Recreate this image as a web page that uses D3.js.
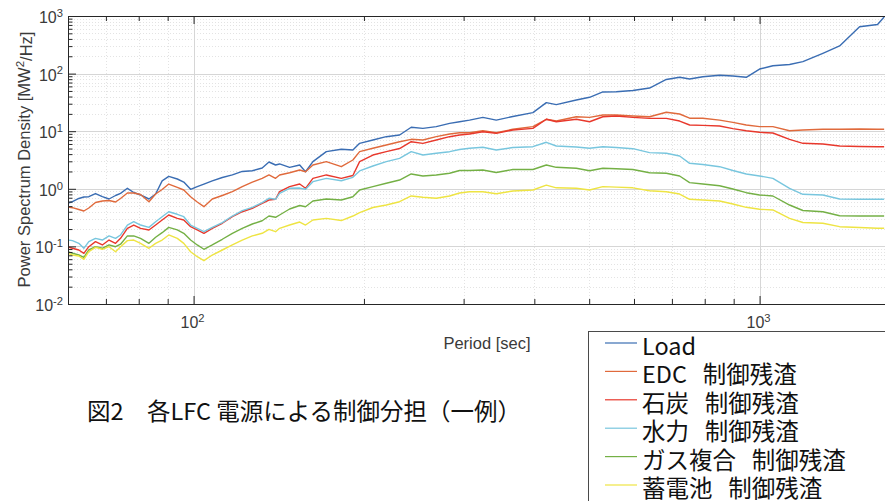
<!DOCTYPE html>
<html>
<head>
<meta charset="utf-8">
<script src="https://cdn.jsdelivr.net/npm/d3@7/dist/d3.min.js"></script>
<style>
  html, body { margin: 0; padding: 0; background: #fff; }
  svg { display: block; }
</style>
</head>
<body>
<div id="chart"></div>
<script>
// Period grid (sec), shared by all series
const periods = [
    60, 61.1, 62.7, 64.0, 65.3, 67.1, 69.0, 70.9, 72.8, 74.3,
    76.4, 78.4, 80.6, 83.4, 85.7, 88.0, 90.4, 93.6, 96.1, 98.8,
    101.5, 104.3, 107.9, 112.4, 117.1, 121.9, 127.0, 132.2, 135.9, 139.6,
    141.9, 147.8, 154.0, 157.7, 162.5, 171.6, 182.4, 191.2, 196.5, 207.4,
    219.0, 231.2, 242.4, 254.2, 268.4, 283.4, 295.1, 307.3, 324.4, 342.6,
    366.5, 397.7, 420.0, 437.4, 474.5, 500.8, 528.6, 558.2, 597.2, 639.2,
    684.3, 722.4, 752.3, 793.9, 849.9, 897.2, 947.3, 1000, 1055.6, 1129.8,
    1192.7, 1293.6, 1384.9, 1502, 1616, 1660
];

// Power spectrum density [MW^2/Hz] per series
const loadPsd = [
    0.567, 0.597, 0.679, 0.720, 0.729, 0.828, 0.729, 0.665, 0.765, 0.835,
    1.02, 0.863, 0.781, 0.665, 0.812, 1.37, 1.64, 1.48, 1.31, 0.98,
    1.09, 1.21, 1.37, 1.57, 1.74, 2.00, 2.06, 2.30, 2.92, 2.59,
    2.70, 2.36, 2.59, 1.98, 2.96, 4.41, 4.85, 4.71, 6.16, 7.04,
    8.03, 8.59, 11.7, 11.2, 12.0, 13.7, 14.6, 15.6, 17.4, 15.6,
    18.0, 21.0, 31.3, 29.0, 34.8, 38.8, 48.0, 48.5, 50.9, 56.2,
    79.0, 86.3, 80.6, 88.3, 93.4, 90.9, 86.3, 120, 137, 144,
    161, 225, 302, 652, 712, 961
];
const edcPsd = [
    0.482, 0.470, 0.437, 0.412, 0.464, 0.578, 0.614, 0.627, 0.590, 0.679,
    0.845, 0.845, 0.796, 0.597, 0.812, 0.972, 1.21, 1.06, 0.953, 0.729,
    0.590, 0.489, 0.665, 0.765, 0.891, 1.09, 1.31, 1.52, 1.74, 1.52,
    1.74, 1.90, 2.12, 1.98, 2.59, 2.96, 2.42, 3.16, 4.41, 5.05,
    5.76, 6.57, 7.23, 7.04, 8.03, 8.94, 9.42, 9.42, 10.2, 9.42,
    10.8, 12.0, 16.1, 15.0, 17.8, 17.4, 19.1, 19.1, 18.4, 17.8,
    21.3, 19.9, 16.8, 16.8, 15.6, 14.2, 12.8, 12.0, 12.0, 10.2,
    10.5, 10.8, 10.8, 10.9, 10.8, 10.8
];
const coalPsd = [
    0.0977, 0.0927, 0.0866, 0.0759, 0.0988, 0.121, 0.106, 0.129, 0.113, 0.138,
    0.206, 0.235, 0.206, 0.193, 0.235, 0.287, 0.351, 0.307, 0.287, 0.220,
    0.193, 0.169, 0.206, 0.252, 0.328, 0.400, 0.459, 0.560, 0.639, 0.657,
    0.891, 1.09, 1.21, 1.02, 1.52, 1.74, 1.52, 1.70, 2.96, 3.86,
    4.41, 5.00, 6.57, 6.16, 7.04, 8.03, 8.59, 8.94, 9.80, 9.19,
    10.5, 11.2, 16.1, 14.6, 16.1, 14.6, 17.8, 18.4, 17.4, 16.7,
    16.7, 15.0, 12.8, 12.6, 12.3, 11.1, 10.2, 9.57, 9.30, 7.23,
    6.16, 5.99, 5.53, 5.42, 5.38, 5.38
];
const hydroPsd = [
    0.129, 0.126, 0.113, 0.0927, 0.121, 0.138, 0.129, 0.152, 0.138, 0.158,
    0.235, 0.268, 0.235, 0.214, 0.268, 0.328, 0.400, 0.361, 0.328, 0.235,
    0.206, 0.180, 0.214, 0.258, 0.337, 0.417, 0.477, 0.574, 0.684, 0.657,
    0.835, 1.02, 1.03, 0.98, 1.33, 1.52, 1.38, 1.58, 2.04, 2.49,
    2.96, 3.38, 4.41, 3.86, 4.14, 4.41, 4.81, 5.05, 5.26, 4.71,
    5.21, 5.38, 6.42, 5.53, 5.32, 5.05, 5.38, 5.21, 4.97, 4.24,
    4.14, 3.71, 2.77, 2.64, 2.42, 2.08, 1.81, 1.67, 1.52, 1.02,
    0.803, 0.781, 0.665, 0.657, 0.657, 0.657
];
const gasPsd = [
    0.0809, 0.0759, 0.0709, 0.0647, 0.0866, 0.0988, 0.0927, 0.106, 0.0988, 0.109,
    0.152, 0.152, 0.138, 0.113, 0.144, 0.173, 0.214, 0.193, 0.169, 0.129,
    0.106, 0.0891, 0.106, 0.133, 0.169, 0.206, 0.245, 0.279, 0.337, 0.320,
    0.351, 0.446, 0.513, 0.489, 0.614, 0.665, 0.639, 0.729, 0.953, 1.09,
    1.25, 1.42, 1.81, 1.67, 1.74, 1.86, 2.08, 2.08, 2.12, 1.92,
    2.16, 2.16, 2.59, 2.36, 2.27, 2.06, 2.27, 2.23, 2.16, 1.90,
    1.86, 1.67, 1.28, 1.21, 1.13, 0.992, 0.856, 0.781, 0.750, 0.523,
    0.420, 0.400, 0.341, 0.337, 0.337, 0.337
];
const batteryPsd = [
    0.0759, 0.0709, 0.0681, 0.0597, 0.0809, 0.0965, 0.0891, 0.0988, 0.0809, 0.0988,
    0.126, 0.129, 0.113, 0.0927, 0.113, 0.129, 0.158, 0.138, 0.113, 0.0809,
    0.0662, 0.0565, 0.0709, 0.0866, 0.106, 0.129, 0.152, 0.169, 0.197, 0.180,
    0.206, 0.235, 0.265, 0.235, 0.287, 0.307, 0.281, 0.337, 0.387, 0.474,
    0.523, 0.597, 0.750, 0.712, 0.684, 0.750, 0.845, 0.891, 0.891, 0.822,
    0.916, 0.953, 1.16, 1.04, 1.02, 0.953, 1.09, 1.07, 1.04, 0.927,
    0.891, 0.812, 0.657, 0.639, 0.614, 0.545, 0.477, 0.441, 0.429, 0.307,
    0.260, 0.252, 0.220, 0.213, 0.206, 0.206
];

const seriesLabels = [
    'Load',
    'EDC\u00a0\u00a0\u00a0制御残渣',
    '石炭\u00a0\u00a0\u00a0制御残渣',
    '水力\u00a0\u00a0\u00a0制御残渣',
    'ガス複合\u00a0\u00a0\u00a0制御残渣',
    '蓄電池\u00a0\u00a0\u00a0制御残渣'
];
const seriesValues = [loadPsd, edcPsd, coalPsd, hydroPsd, gasPsd, batteryPsd];

const xMajorTicks = [100, 1000];
const xMinorTicks = [70, 80, 90, 200, 300, 400, 500, 600, 700, 800, 900];
const yMajorTicks = [1e-2, 1e-1, 1e0, 1e1, 1e2, 1e3];
const xLabelText = 'Period [sec]';
const captionText = '図2　各LFC 電源による制御分担（一例）';

// Layout and style settings
const config = {
    width: 885,
    height: 501,
    plot: { left: 68, top: 16, right: 890, bottom: 304 },
    xDomain: [60, 1700],
    yDomain: [1e-2, 1e3],
    colors: ['#3a6db3', '#e06a3c', '#e8382c', '#78c6de', '#74b045', '#eee443'],
    lineWidth: 1.4,
    axisColor: '#262626',
    textColor: '#3a3a3a',
    gridMajor: '#d6d6d6',
    gridMinor: '#e3e3e3',
    tickFont: 16,
    labelFont: 16.5,
    cjkFont: '"Noto Sans CJK JP", sans-serif',
    latinFont: '"Liberation Sans", Arial, sans-serif',
    legend: { x: 588, y: 331, lineX1: 605, lineX2: 637, textX: 642, firstBaseline: 355, rowStep: 28.4, fontSize: 23.5 },
    caption: { x: 87, y: 419.5, fontSize: 23.5 }
};

let svg, x, y;

/**
 * Build scales and svg
 */
function init() {
    svg = d3.select('#chart').append('svg')
        .attr('width', config.width)
        .attr('height', config.height);

    x = d3.scaleLog().domain(config.xDomain).range([config.plot.left, config.plot.right]);
    y = d3.scaleLog().domain(config.yDomain).range([config.plot.bottom, config.plot.top]);

    svg.append('defs').append('clipPath').attr('id', 'plot-clip')
        .append('rect')
        .attr('x', config.plot.left)
        .attr('y', config.plot.top)
        .attr('width', config.plot.right - config.plot.left)
        .attr('height', config.plot.bottom - config.plot.top);

    drawGrid();
    drawSeries();
    drawAxes();
    drawLegend();
    drawCaption();
}

/**
 * Minor y values: 2..9 inside every decade
 */
function yMinorValues() {
    const out = [];
    for (let e = -2; e < 3; e++) {
        for (let k = 2; k <= 9; k++) out.push(k * Math.pow(10, e));
    }
    return out;
}

/**
 * Major and dotted minor grid lines
 */
function drawGrid() {
    const g = svg.append('g').attr('class', 'grid');
    const p = config.plot;

    g.selectAll('.ymin').data(yMinorValues()).join('line')
        .attr('x1', p.left).attr('x2', p.right)
        .attr('y1', d => Math.round(y(d)) + 0.5).attr('y2', d => Math.round(y(d)) + 0.5)
        .attr('stroke', config.gridMinor).attr('stroke-dasharray', '1,2');

    g.selectAll('.xmin').data(xMinorTicks).join('line')
        .attr('x1', d => Math.round(x(d)) + 0.5).attr('x2', d => Math.round(x(d)) + 0.5)
        .attr('y1', p.top).attr('y2', p.bottom)
        .attr('stroke', config.gridMinor).attr('stroke-dasharray', '1,2');

    g.selectAll('.ymaj').data(yMajorTicks.slice(1, -1)).join('line')
        .attr('x1', p.left).attr('x2', p.right)
        .attr('y1', d => Math.round(y(d)) + 0.5).attr('y2', d => Math.round(y(d)) + 0.5)
        .attr('stroke', config.gridMajor);

    g.selectAll('.xmaj').data(xMajorTicks).join('line')
        .attr('x1', d => Math.round(x(d)) + 0.5).attr('x2', d => Math.round(x(d)) + 0.5)
        .attr('y1', p.top).attr('y2', p.bottom)
        .attr('stroke', config.gridMajor);
}

/**
 * One line per series, Load first so later ones lie on top
 */
function drawSeries() {
    const line = d3.line()
        .x(d => x(d[0]))
        .y(d => y(d[1]));

    svg.append('g').attr('clip-path', 'url(#plot-clip)')
        .selectAll('path')
        .data(seriesValues)
        .join('path')
        .attr('d', vals => line(d3.zip(periods, vals)))
        .attr('fill', 'none')
        .attr('stroke', (d, i) => config.colors[i])
        .attr('stroke-width', config.lineWidth)
        .attr('stroke-linejoin', 'round');
}

/**
 * Append "10" with a superscript exponent
 */
function powerLabel(sel, v) {
    const exp = Math.round(Math.log10(v));
    sel.text('10');
    sel.append('tspan')
        .attr('dy', '-0.55em')
        .attr('font-size', '0.7em')
        .text(exp);
}

/**
 * Box axes with inward ticks, custom power-of-ten labels
 */
function drawAxes() {
    const p = config.plot;
    const style = g => {
        g.select('.domain').attr('stroke', config.axisColor);
        g.selectAll('.tick line').attr('stroke', config.axisColor);
    };

    svg.append('g').attr('transform', `translate(0,${p.bottom})`)
        .call(d3.axisBottom(x).tickValues(xMinorTicks).tickSize(-5).tickSizeOuter(0).tickFormat(''))
        .call(style);
    svg.append('g').attr('transform', `translate(0,${p.bottom})`)
        .call(d3.axisBottom(x).tickValues(xMajorTicks).tickSize(-8).tickSizeOuter(0).tickFormat(''))
        .call(style);
    svg.append('g').attr('transform', `translate(0,${p.top})`)
        .call(d3.axisTop(x).tickValues(xMinorTicks).tickSize(-5).tickSizeOuter(0).tickFormat(''))
        .call(style);
    svg.append('g').attr('transform', `translate(0,${p.top})`)
        .call(d3.axisTop(x).tickValues(xMajorTicks).tickSize(-8).tickSizeOuter(0).tickFormat(''))
        .call(style);
    svg.append('g').attr('transform', `translate(${p.left},0)`)
        .call(d3.axisLeft(y).tickValues(yMinorValues()).tickSize(-4.5).tickSizeOuter(0).tickFormat(''))
        .call(style);
    svg.append('g').attr('transform', `translate(${p.left},0)`)
        .call(d3.axisLeft(y).tickValues(yMajorTicks).tickSize(-8).tickSizeOuter(0).tickFormat(''))
        .call(style);

    // y tick labels
    svg.append('g').selectAll('text').data(yMajorTicks).join('text')
        .attr('x', p.left - 5)
        .attr('y', d => y(d) + 7)
        .attr('text-anchor', 'end')
        .attr('font-family', config.latinFont)
        .attr('font-size', config.tickFont)
        .attr('fill', config.textColor)
        .each(function(d) { powerLabel(d3.select(this), d); });

    // x tick labels
    svg.append('g').selectAll('text').data(xMajorTicks).join('text')
        .attr('x', d => x(d) - 1)
        .attr('y', p.bottom + 24)
        .attr('text-anchor', 'middle')
        .attr('font-family', config.latinFont)
        .attr('font-size', config.tickFont)
        .attr('fill', config.textColor)
        .each(function(d) { powerLabel(d3.select(this), d); });

    // x label
    svg.append('text')
        .attr('x', 487)
        .attr('y', 349)
        .attr('text-anchor', 'middle')
        .attr('font-family', config.latinFont)
        .attr('font-size', config.labelFont)
        .attr('fill', config.textColor)
        .text(xLabelText);

    // y label with superscript 2
    const yl = svg.append('text')
        .attr('transform', 'translate(29.5,159.5) rotate(-90)')
        .attr('text-anchor', 'middle')
        .attr('font-family', config.latinFont)
        .attr('font-size', config.labelFont)
        .attr('fill', config.textColor);
    yl.append('tspan').text('Power Spectrum Density [MW');
    yl.append('tspan').attr('dy', '-0.45em').attr('font-size', '0.7em').text('2');
    yl.append('tspan').attr('dy', '0.45em').text('/Hz]');
}

/**
 * Legend box (runs off the right and bottom edges, as in the source)
 */
function drawLegend() {
    const L = config.legend;
    svg.append('rect')
        .attr('x', L.x + 0.5).attr('y', L.y + 0.5)
        .attr('width', 400).attr('height', 300)
        .attr('fill', '#fff')
        .attr('stroke', '#4a4a4a');

    const rows = svg.append('g').selectAll('g')
        .data(seriesLabels)
        .join('g')
        .attr('transform', (d, i) => `translate(0,${L.firstBaseline + i * L.rowStep})`);

    rows.append('line')
        .attr('x1', L.lineX1).attr('x2', L.lineX2)
        .attr('y1', -12).attr('y2', -12)
        .attr('stroke', (d, i) => config.colors[i])
        .attr('stroke-width', 1.2);

    rows.append('text')
        .attr('x', L.textX)
        .attr('font-family', config.cjkFont)
        .attr('font-size', L.fontSize)
        .attr('fill', '#111')
        .style('white-space', 'pre')
        .text(d => d);
}

/**
 * Figure caption under the plot
 */
function drawCaption() {
    svg.append('text')
        .attr('x', config.caption.x)
        .attr('y', config.caption.y)
        .attr('font-family', config.cjkFont)
        .attr('font-size', config.caption.fontSize)
        .attr('fill', '#111')
        .style('white-space', 'pre')
        .text(captionText);
}

init();
</script>
</body>
</html>
